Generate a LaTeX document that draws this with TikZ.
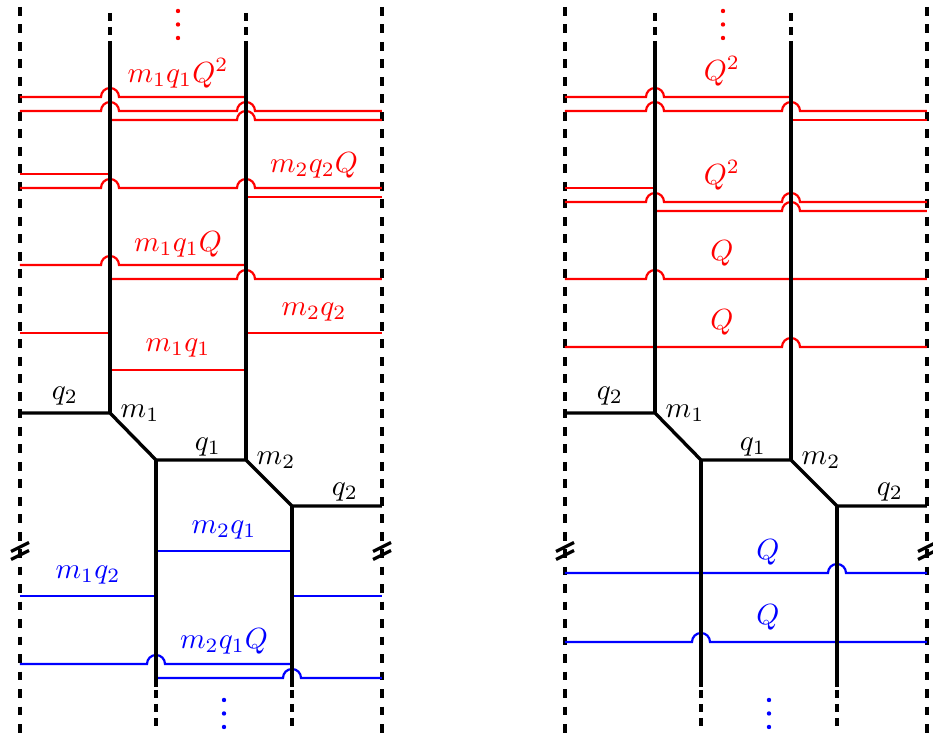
\documentclass[tikz,border=0pt]{standalone}
\newcommand\hp[2]{-- ({#1-9},#2) arc[start angle=180,end angle=360,radius=9]}
\begin{document}
\begin{tikzpicture}[x=0.343pt,y=-0.343pt,
  blk/.style={line width=1.15pt},
  outer/.style={line width=1.25pt,dash pattern=on 3pt off 3pt,dash phase=3.6pt},
  topdash/.style={line width=1.15pt,dash pattern=on 2.74pt off 2.06pt},
  brk/.style={line width=1.1pt},
  rl/.style={red,line width=0.75pt},
  bl/.style={blue,line width=0.75pt},
  lab/.style={inner sep=0pt},
  rlab/.style={red,inner sep=0pt},
  blab/.style={blue,inner sep=0pt}]
\useasboundingbox (0,0) rectangle (933,735);

% ---------------- common structure for both panels
\foreach \o/\s in {0/L,545/R}{
\begin{scope}[shift={(\o,0)}]
  \coordinate (oTL\s) at (20,0);   \coordinate (oBL\s) at (20,735);
  \coordinate (oTR\s) at (382,0);  \coordinate (oBR\s) at (382,735);
  \coordinate (t1\s) at (110,13);  \coordinate (s1\s) at (110,45);
  \coordinate (t2\s) at (246,13);  \coordinate (s2\s) at (246,45);
  \coordinate (l2\s) at (20,413);
  \coordinate (m1\s) at (110,413);
  \coordinate (a\s) at (156,460);
  \coordinate (m2\s) at (246,460);
  \coordinate (b\s) at (292,506);
  \coordinate (r2\s) at (382,506);
  \coordinate (e1\s) at (156,687); \coordinate (f1\s) at (156,690); \coordinate (d1\s) at (156,727);
  \coordinate (e2\s) at (292,687); \coordinate (f2\s) at (292,690); \coordinate (d2\s) at (292,727);
  \draw[outer] (oTL\s) -- (oBL\s);
  \draw[outer] (oTR\s) -- (oBR\s);
  \draw[topdash] (t1\s) -- (s1\s);
  \draw[topdash] (t2\s) -- (s2\s);
  \draw[topdash] (f1\s) -- (d1\s);
  \draw[topdash] (f2\s) -- (d2\s);
  % break marks
  \draw[brk] (11,551.5) -- (29,542.5) (11,559.5) -- (29,550.5);
  \draw[brk] (373,551.5) -- (391,542.5) (373,559.5) -- (391,550.5);
  % dots
  \fill[red] (178,11) circle (2.2) (178,24.5) circle (2.2) (178,38) circle (2.2);
  \fill[blue] (224,700) circle (2.2) (224,713.5) circle (2.2) (224,727) circle (2.2);
  % vertex labels
  \node[lab] (lq2\s) at (65,396) {$q_2$};
  \node[lab] (lm1\s) at (140,413) {$m_1$};
  \node[lab] (lq1\s) at (208,447) {$q_1$};
  \node[lab] (lm2\s) at (276,460) {$m_2$};
  \node[lab] (lr2\s) at (345,492) {$q_2$};
\end{scope}
}

% ---------------- left panel: red
\draw[rl] (20,97) \hp{110}{97} -- (246,97);
\draw[rl] (20,111) \hp{110}{111} \hp{246}{111} -- (382,111);
\draw[rl] (110,120) \hp{246}{120} -- (382,120);
\draw[rl] (20,174) -- (110,174);
\draw[rl] (20,188) \hp{110}{188} \hp{246}{188} -- (382,188);
\draw[rl] (246,197) -- (382,197);
\draw[rl] (20,265) \hp{110}{265} -- (246,265);
\draw[rl] (110,279) \hp{246}{279} -- (382,279);
\draw[rl] (20,333) -- (110,333);
\draw[rl] (246,333) -- (382,333);
\draw[rl] (110,370) -- (246,370);
\node[rlab] (L1) at (178,73) {$m_1q_1Q^2$};
\node[rlab] (L2) at (314,165) {$m_2q_2Q$};
\node[rlab] (L3) at (178,244) {$m_1q_1Q$};
\node[rlab] (L4) at (314,312) {$m_2q_2$};
\node[rlab] (L5) at (178,348) {$m_1q_1$};
% left panel: blue
\draw[bl] (156,551) -- (292,551);
\draw[bl] (20,596) -- (156,596);
\draw[bl] (292,596) -- (382,596);
\draw[bl] (20,664) \hp{156}{664} -- (292,664);
\draw[bl] (156,678) \hp{292}{678} -- (382,678);
\node[blab] (L6) at (224,530) {$m_2q_1$};
\node[blab] (L7) at (88,575) {$m_1q_2$};
\node[blab] (L8) at (224,641) {$m_2q_1Q$};

% ---------------- right panel
\begin{scope}[shift={(545,0)}]
\draw[rl] (20,97) \hp{110}{97} -- (246,97);
\draw[rl] (20,111) \hp{110}{111} \hp{246}{111} -- (382,111);
\draw[rl] (246,120) -- (382,120);
\draw[rl] (20,188) -- (110,188);
\draw[rl] (20,202) \hp{110}{202} \hp{246}{202} -- (382,202);
\draw[rl] (110,211) \hp{246}{211} -- (382,211);
\draw[rl] (20,279) \hp{110}{279} -- (382,279);
\draw[rl] (20,347) \hp{246}{347} -- (382,347);
\node[rlab] (R1) at (177,71) {$Q^2$};
\node[rlab] (R2) at (177,175) {$Q^2$};
\node[rlab] (R3) at (177,253) {$Q$};
\node[rlab] (R4) at (177,322) {$Q$};
\draw[bl] (20,573) \hp{292}{573} -- (382,573);
\draw[bl] (20,642) \hp{156}{642} -- (382,642);
\node[blab] (R5) at (223,552) {$Q$};
\node[blab] (R6) at (223,617) {$Q$};
\end{scope}

% ---------------- solid black lines (on top)
\foreach \s in {L,R}{
  \draw[blk] (s1\s) -- (m1\s);
  \draw[blk] (s2\s) -- (m2\s);
  \draw[blk] (l2\s) -- (m1\s) -- (a\s) -- (m2\s) -- (b\s) -- (r2\s);
  \draw[blk] (a\s) -- (e1\s);
  \draw[blk] (b\s) -- (e2\s);
}
\end{tikzpicture}
\end{document}
